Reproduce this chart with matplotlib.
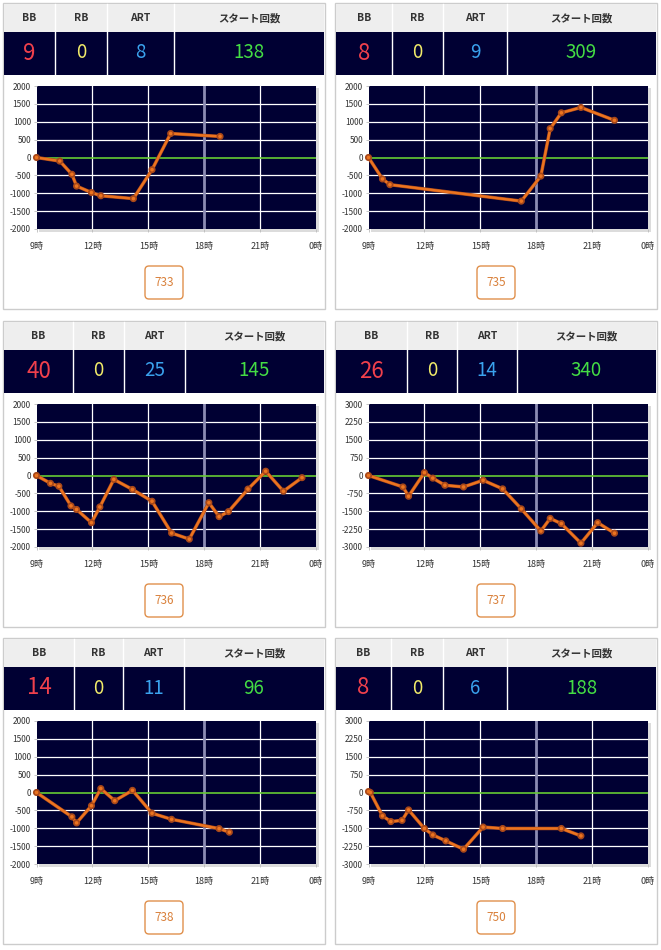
import matplotlib
matplotlib.use('Agg')
import matplotlib.pyplot as plt
import matplotlib.patheffects as pe
from matplotlib.patches import Rectangle, FancyBboxPatch

plt.rcParams['font.family'] = ['Noto Sans CJK JP', 'DejaVu Sans']

W, H = 661, 950

# --- data ---
headers = ['BB', 'RB', 'ART', 'スタート回数']
bb_vals = [9, 8, 40, 26, 14, 8]
rb_vals = [0, 0, 0, 0, 0, 0]
art_vals = [8, 9, 25, 14, 11, 6]
start_vals = [138, 309, 145, 340, 96, 188]
machine_no = ['733', '735', '736', '737', '738', '750']

hours_733 = [9, 10.25, 10.9, 11.15, 11.95, 12.45, 14.2, 15.2, 16.2, 18.85]
diff_733 = [0, -100, -470, -800, -980, -1070, -1150, -340, 670, 590]

hours_735 = [9, 9.75, 10.15, 17.2, 18.25, 18.75, 19.35, 20.4, 22.2]
diff_735 = [0, -600, -760, -1220, -520, 810, 1250, 1400, 1040]

hours_736 = [9, 9.75, 10.2, 10.85, 11.15, 11.95, 12.4, 13.15, 14.15, 15.2,
             16.25, 17.2, 18.25, 18.8, 19.3, 20.35, 21.3, 22.25, 23.25]
diff_736 = [0, -220, -300, -850, -950, -1320, -880, -110, -390, -720,
            -1610, -1780, -760, -1150, -1010, -380, 120, -440, -60]

hours_737 = [9, 10.85, 11.15, 12.0, 12.45, 13.1, 14.1, 15.15, 16.2, 17.2,
             18.25, 18.75, 19.35, 20.4, 21.3, 22.2]
diff_737 = [0, -480, -870, 120, -110, -410, -480, -200, -560, -1400,
            -2330, -1800, -2020, -2840, -1980, -2420]

hours_738 = [9, 10.9, 11.15, 11.95, 12.45, 13.2, 14.15, 15.2, 16.25, 18.8, 19.35]
diff_738 = [0, -680, -850, -370, 110, -230, 60, -580, -750, -1010, -1110]

hours_750 = [9, 9.1, 9.75, 10.2, 10.8, 11.15, 12.0, 12.45, 13.15, 14.1,
             15.15, 16.2, 19.35, 20.4]
diff_750 = [40, 0, -980, -1220, -1170, -730, -1510, -1780, -2030, -2380,
            -1450, -1510, -1510, -1820]

hours = [hours_733, hours_735, hours_736, hours_737, hours_738, hours_750]
diffs = [diff_733, diff_735, diff_736, diff_737, diff_738, diff_750]
y_limits = [2000, 2000, 2000, 3000, 2000, 3000]
x_ticks = [9, 12, 15, 18, 21, 24]
x_labels = ['9時', '12時', '15時', '18時', '21時', '0時']

# layout (pixels)
panel_x = [3, 335, 3, 335, 3, 335]
panel_y = [3, 3, 321, 321, 638, 638]
col_seps = [[52, 104, 171], [57, 108, 172], [70, 121, 182],
            [72, 122, 182], [71, 120, 181], [56, 108, 172]]
PW, PH = 322, 306

navy = '#000033'
val_colors = ['#f0404c', '#f2ec6a', '#3aa2ee', '#44dd44']

fig = plt.figure(figsize=(W / 100, H / 100), dpi=100)
bg = fig.add_axes([0, 0, 1, 1])
bg.set_xlim(0, W)
bg.set_ylim(H, 0)
bg.axis('off')


def frac(x0, y0, x1, y1):
    return [x0 / W, 1 - y1 / H, (x1 - x0) / W, (y1 - y0) / H]


for i in range(6):
    px, py = panel_x[i], panel_y[i]
    # outer frame
    bg.add_patch(Rectangle((px, py), PW, PH, facecolor='white',
                           edgecolor='#cccccc', lw=1))
    # header rows
    bg.add_patch(Rectangle((px + 1, py + 1), PW - 2, 28, facecolor='#eeeeee', lw=0))
    bg.add_patch(Rectangle((px + 1, py + 29), PW - 2, 43, facecolor=navy, lw=0))
    edges = [1] + col_seps[i] + [PW - 1]
    for s in col_seps[i]:
        bg.plot([px + s, px + s], [py + 1, py + 72], color='white', lw=1)
    row_vals = [bb_vals[i], rb_vals[i], art_vals[i], start_vals[i]]
    for c in range(4):
        cx = px + (edges[c] + edges[c + 1]) / 2
        bg.text(cx, py + 15, headers[c], ha='center', va='center',
                fontsize=7.5, fontweight='bold', color='#333333')
        bg.text(cx, py + 50, str(row_vals[c]), ha='center', va='center',
                fontsize=16 if c == 0 else 13.5, color=val_colors[c])

    # chart
    x0, y0, x1, y1 = px + 33.5, py + 83, px + 313, py + 226
    bg.add_patch(Rectangle((x0 + 2, y0 + 2), x1 - x0 + 1, y1 - y0 + 1,
                           facecolor='#dcdcdc', lw=0))
    ax = fig.add_axes(frac(x0, y0, x1, y1))
    ax.set_facecolor(navy)
    for sp in ax.spines.values():
        sp.set_visible(False)
    lim = y_limits[i]
    step = lim / 4
    yt = [-lim + k * step for k in range(9)]
    ax.set_xlim(9, 24)
    ax.set_ylim(-lim, lim)
    ax.set_yticks(yt)
    ax.set_yticklabels([str(int(v)) for v in yt])
    ax.set_xticks(x_ticks)
    ax.set_xticklabels(x_labels)
    for v in yt[1:-1]:
        if v != 0:
            ax.axhline(v, color='white', lw=0.9, zorder=1)
    for h in [12, 15, 21]:
        ax.axvline(h, color='white', lw=0.9, zorder=1)
    ax.axvline(18, color='#8c8cb4', lw=2, zorder=1)
    ax.axhline(0, color='#66cc33', lw=1.2, zorder=2)
    ax.plot(hours[i], diffs[i], color='#ec7420', lw=1.7, marker='o', ms=2.6,
            mew=0, zorder=3, clip_on=False,
            path_effects=[pe.Stroke(linewidth=2.5, foreground='#a8481a'), pe.Normal()])
    ax.tick_params(axis='y', length=2.5, width=0.6, color='#bbbbbb', pad=1.5,
                   labelsize=6, labelcolor='#333333')
    ax.tick_params(axis='x', length=2.5, width=0.6, color='#bbbbbb', pad=7,
                   labelsize=6.5, labelcolor='#333333')

    # machine number box
    bx0, by0 = px + 142, py + 263
    bg.add_patch(FancyBboxPatch((bx0, by0), 38, 33,
                                boxstyle='round,pad=0,rounding_size=4',
                                facecolor='white', edgecolor='#e0904c', lw=1))
    bg.text(bx0 + 19, by0 + 16.5, machine_no[i], ha='center', va='center',
            fontsize=8.5, color='#d9803a')

fig.savefig('out.png', dpi=100)
